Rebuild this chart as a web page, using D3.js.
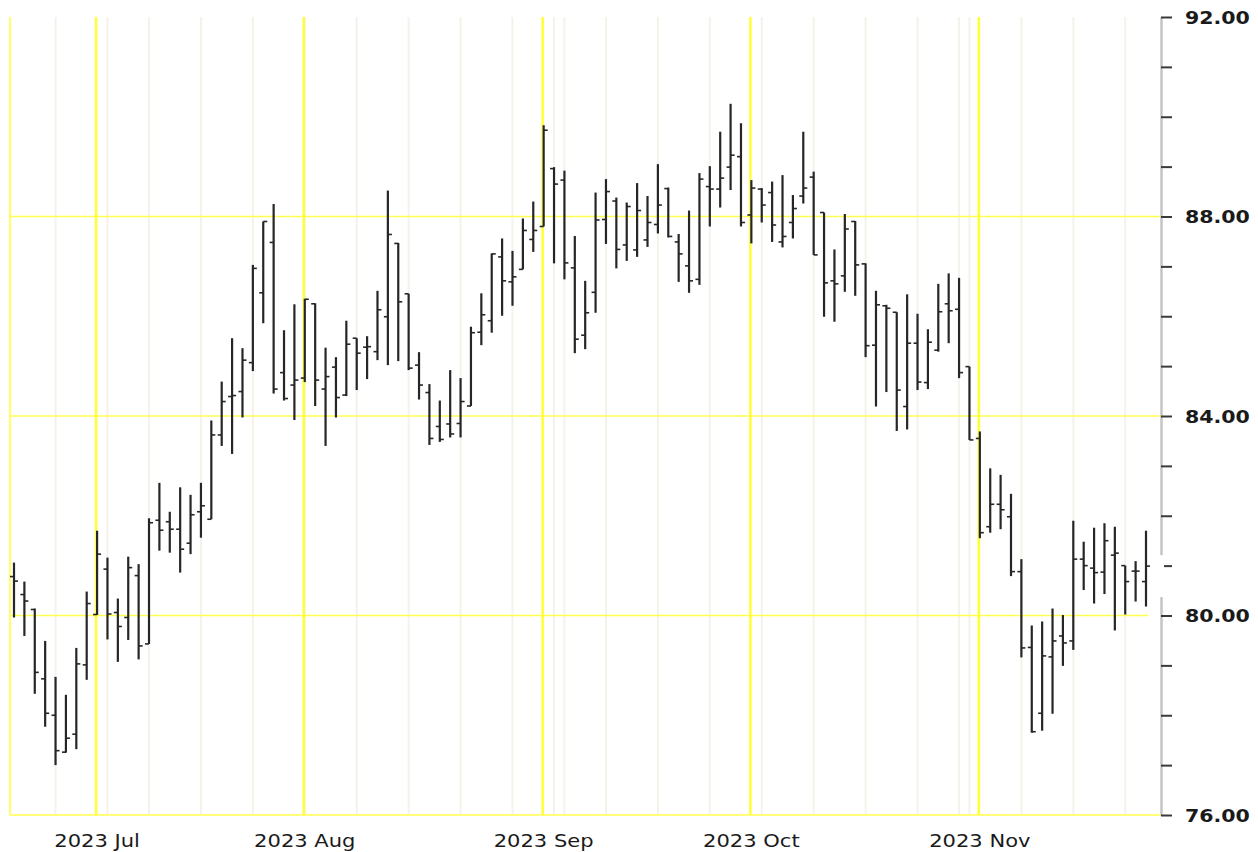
<!DOCTYPE html>
<head>
	<script src="https://d3js.org/d3.v7.min.js"></script>
	<style type="text/css">
		body { margin: 0; background: #fff; }
		svg { display: block; }
	</style>
</head>
<body>
	<div id="chart"></div>
</body>
<script>

	var width = 1258;
	var height = 852;

	// trading days shown on the chart
	var dates = [
		"2023-06-20","2023-06-21","2023-06-22","2023-06-23",
		"2023-06-26","2023-06-27","2023-06-28","2023-06-29","2023-06-30",
		"2023-07-03","2023-07-05","2023-07-06","2023-07-07",
		"2023-07-10","2023-07-11","2023-07-12","2023-07-13","2023-07-14",
		"2023-07-17","2023-07-18","2023-07-19","2023-07-20","2023-07-21",
		"2023-07-24","2023-07-25","2023-07-26","2023-07-27","2023-07-28",
		"2023-07-31","2023-08-01","2023-08-02","2023-08-03","2023-08-04",
		"2023-08-07","2023-08-08","2023-08-09","2023-08-10","2023-08-11",
		"2023-08-14","2023-08-15","2023-08-16","2023-08-17","2023-08-18",
		"2023-08-21","2023-08-22","2023-08-23","2023-08-24","2023-08-25",
		"2023-08-28","2023-08-29","2023-08-30","2023-08-31","2023-09-01",
		"2023-09-05","2023-09-06","2023-09-07","2023-09-08",
		"2023-09-11","2023-09-12","2023-09-13","2023-09-14","2023-09-15",
		"2023-09-18","2023-09-19","2023-09-20","2023-09-21","2023-09-22",
		"2023-09-25","2023-09-26","2023-09-27","2023-09-28","2023-09-29",
		"2023-10-02","2023-10-03","2023-10-04","2023-10-05","2023-10-06",
		"2023-10-09","2023-10-10","2023-10-11","2023-10-12","2023-10-13",
		"2023-10-16","2023-10-17","2023-10-18","2023-10-19","2023-10-20",
		"2023-10-23","2023-10-24","2023-10-25","2023-10-26","2023-10-27",
		"2023-10-30","2023-10-31","2023-11-01","2023-11-02","2023-11-03",
		"2023-11-06","2023-11-07","2023-11-08","2023-11-09","2023-11-10",
		"2023-11-13","2023-11-14","2023-11-15","2023-11-16","2023-11-17",
		"2023-11-20","2023-11-21","2023-11-22"
	];

	var open = [
		80.78,80.42,80.12,78.73,78.00,77.26,77.62,79.01,80.02,80.93,
		80.06,79.96,80.80,79.43,81.91,81.88,81.73,81.45,82.08,81.93,
		83.62,84.39,84.49,85.07,86.47,87.48,84.87,84.62,84.76,86.25,
		84.54,84.98,84.42,85.56,85.38,85.29,85.99,87.46,86.45,85.02,
		84.47,83.79,83.84,83.85,84.20,85.68,85.91,87.19,86.69,86.94,
		87.54,87.80,88.96,88.73,86.97,85.62,86.48,87.94,88.31,87.43,
		87.33,87.53,87.84,88.56,87.49,87.01,86.74,88.60,88.55,88.99,
		89.20,88.03,88.55,88.48,87.49,87.88,88.41,88.79,88.08,86.71,
		86.81,87.90,87.05,85.42,86.21,86.08,84.19,85.46,84.67,85.32,
		86.25,86.14,84.99,83.55,81.78,82.23,81.98,80.88,79.36,78.04,
		79.17,79.59,79.49,81.13,80.95,80.87,81.21,81.00,80.89,80.68
	];
	var high = [
		81.06,80.68,80.14,79.49,78.77,78.41,79.35,80.48,81.70,81.16,
		80.34,81.18,81.03,81.95,82.66,82.08,82.57,82.42,82.66,83.91,
		84.69,85.56,85.36,87.03,87.90,88.25,85.72,86.24,86.35,86.26,
		85.37,85.18,85.91,85.56,85.60,86.51,88.52,87.47,86.45,85.28,
		84.64,84.31,84.92,84.76,85.79,86.46,87.26,87.56,87.31,87.96,
		88.30,89.83,88.99,88.92,87.61,86.71,88.48,88.75,88.38,88.28,
		88.67,88.41,89.05,88.58,87.65,88.12,88.87,89.01,89.70,90.26,
		89.87,88.73,88.57,88.70,88.83,88.43,89.70,88.90,88.08,87.34,
		88.05,87.91,87.06,86.51,86.23,86.08,86.44,86.05,85.74,86.65,
		86.86,86.77,84.99,83.69,82.95,82.82,82.44,81.13,79.80,79.88,
		80.14,80.01,81.90,81.48,81.76,81.85,81.78,81.00,81.09,81.70
	];
	var low = [
		79.96,79.59,78.43,77.77,77.00,77.25,77.32,78.71,80.01,79.52,
		79.07,79.51,79.12,79.43,81.30,81.26,80.86,81.23,81.56,81.93,
		83.40,83.24,83.97,84.90,85.86,84.45,84.31,83.92,84.68,84.20,
		83.40,83.97,84.40,84.52,84.74,85.12,85.02,85.10,84.92,84.33,
		83.42,83.48,83.57,83.57,84.20,85.42,85.67,86.01,86.21,86.94,
		87.29,87.80,87.06,86.74,85.26,85.34,86.07,87.45,86.96,87.11,
		87.19,87.39,87.66,87.58,86.69,86.47,86.63,87.80,88.18,88.53,
		87.80,87.46,87.88,87.49,87.38,87.56,88.26,87.23,85.99,85.89,
		86.49,86.41,85.18,84.19,84.48,83.70,83.73,84.52,84.54,85.29,
		85.46,84.76,83.52,81.55,81.66,81.73,80.79,79.16,77.65,77.69,
		78.03,78.99,79.31,80.51,80.24,80.43,79.70,80.02,80.28,80.18
	];
	var close = [
		80.69,80.29,78.86,78.04,77.29,77.54,79.03,80.24,81.23,80.03,
		79.78,80.96,79.39,81.86,81.71,81.73,81.33,82.02,82.20,83.62,
		84.29,84.41,85.12,86.96,87.90,84.54,84.35,84.72,86.34,84.72,
		84.79,84.37,85.44,85.26,85.39,86.13,87.64,86.29,84.96,84.62,
		83.55,83.53,83.64,84.29,85.67,86.03,87.25,86.71,86.79,87.72,
		87.72,89.73,88.65,87.07,85.54,86.07,87.93,88.50,87.34,88.20,
		88.12,87.88,88.23,87.60,87.25,86.71,88.75,88.55,88.77,89.23,
		87.88,88.57,88.23,87.83,87.60,88.16,88.57,87.23,86.67,86.65,
		87.75,87.03,85.41,86.23,86.16,84.52,85.46,84.68,85.48,86.09,
		86.11,84.87,83.52,81.66,82.23,82.12,80.88,79.35,77.67,79.19,
		79.49,79.45,81.13,81.00,80.86,81.50,81.25,80.68,80.89,80.99
	];

	var yLabelTicks = [76, 80, 84, 88, 92];
	var extraWeekLines = ["2023-09-01", "2023-10-27"];

	var parse = d3.timeParse("%Y-%m-%d");
	var data = dates.map(function (d, i) {
		return { date: d, t: parse(d), o: open[i], h: high[i], l: low[i], c: close[i] };
	});

	var svg = d3.select("#chart").append("svg")
		.attr("width", width)
		.attr("height", height);

	var x = d3.scalePoint()
		.domain(dates)
		.range([14, 1146]);

	var y = d3.scaleLinear()
		.domain([76, 92])
		.range([815, 17]);

	// week starts = first trading day of a new week, month marks = last day before a new month
	var weekLines = [], monthLines = [];
	data.forEach(function (d, i) {
		if (i == 0) return;
		var prev = data[i - 1];
		if (d3.timeMonday.floor(d.t) > prev.t) weekLines.push(d.date);
		if (d.t.getMonth() != prev.t.getMonth()) monthLines.push({ date: prev.date, label: d3.timeFormat("%Y %b")(d.t) });
	});
	weekLines = weekLines.concat(extraWeekLines);

	var grid = svg.append("g");
	grid.selectAll(".week").data(weekLines).enter().append("line")
		.attr("x1", d => x(d)).attr("x2", d => x(d))
		.attr("y1", y(92)).attr("y2", y(76))
		.attr("stroke", "#f5f2ea").attr("stroke-width", 2);

	grid.selectAll(".hline").data([76, 80, 84, 88]).enter().append("line")
		.attr("x1", 10).attr("x2", d => d == 80 ? 1148 : 1161)
		.attr("y1", d => y(d)).attr("y2", d => y(d))
		.attr("stroke", "#ffff4d").attr("stroke-width", 1.5);

	grid.selectAll(".month").data(monthLines).enter().append("line")
		.attr("x1", d => x(d.date) - 1).attr("x2", d => x(d.date) - 1)
		.attr("y1", y(92)).attr("y2", y(76))
		.attr("stroke", "#ffff33").attr("stroke-width", 2.5);

	grid.append("line")
		.attr("x1", 10).attr("x2", 10)
		.attr("y1", y(92)).attr("y2", y(76))
		.attr("stroke", "#ffff66").attr("stroke-width", 2);

	// ohlc bars
	var bars = svg.append("g").attr("stroke", "#262626");
	var bar = bars.selectAll("g").data(data).enter().append("g");
	bar.append("line")
		.attr("x1", d => x(d.date)).attr("x2", d => x(d.date))
		.attr("y1", d => y(d.h)).attr("y2", d => y(d.l))
		.attr("stroke-width", 2.2);
	bar.append("line")
		.attr("x1", d => x(d.date) - 4).attr("x2", d => x(d.date))
		.attr("y1", d => y(d.o)).attr("y2", d => y(d.o))
		.attr("stroke-width", 1.6);
	bar.append("line")
		.attr("x1", d => x(d.date)).attr("x2", d => x(d.date) + 4)
		.attr("y1", d => y(d.c)).attr("y2", d => y(d.c))
		.attr("stroke-width", 1.6);

	// right axis
	var yAxis = svg.append("g")
		.attr("transform", "translate(1161,0)")
		.call(d3.axisRight(y)
			.tickValues(d3.range(76, 93))
			.tickSize(11)
			.tickSizeOuter(0)
			.tickFormat(d => yLabelTicks.includes(d) ? d3.format(".2f")(d) : ""));
	yAxis.select(".domain").attr("stroke", "#c4c4c4").attr("stroke-width", 2.5);
	yAxis.selectAll(".tick line").attr("stroke", "#3a3a3a").attr("stroke-width", 2);
	yAxis.selectAll(".tick text")
		.attr("x", null)
		.attr("dy", "0.36em")
		.attr("transform", "translate(24,0) scale(1.14,1)")
		.attr("fill", "#1a1a1a")
		.style("font-family", "'DejaVu Sans', Verdana, sans-serif")
		.style("font-weight", "bold")
		.style("font-size", "18px");

	// gap in the axis line beside the last price
	var last = data[data.length - 1];
	svg.append("rect")
		.attr("x", 1159).attr("y", y(last.c) - 11)
		.attr("width", 5).attr("height", 42)
		.attr("fill", "#fff");

	// month labels
	svg.append("g").selectAll("text").data(monthLines).enter().append("text")
		.attr("transform", d => "translate(" + x(d.date) + ",847) scale(1.17,1)")
		.attr("text-anchor", "middle")
		.attr("fill", "#1a1a1a")
		.style("font-family", "'DejaVu Sans', Tahoma, sans-serif")
		.style("font-size", "18px")
		.text(d => d.label);

</script>
